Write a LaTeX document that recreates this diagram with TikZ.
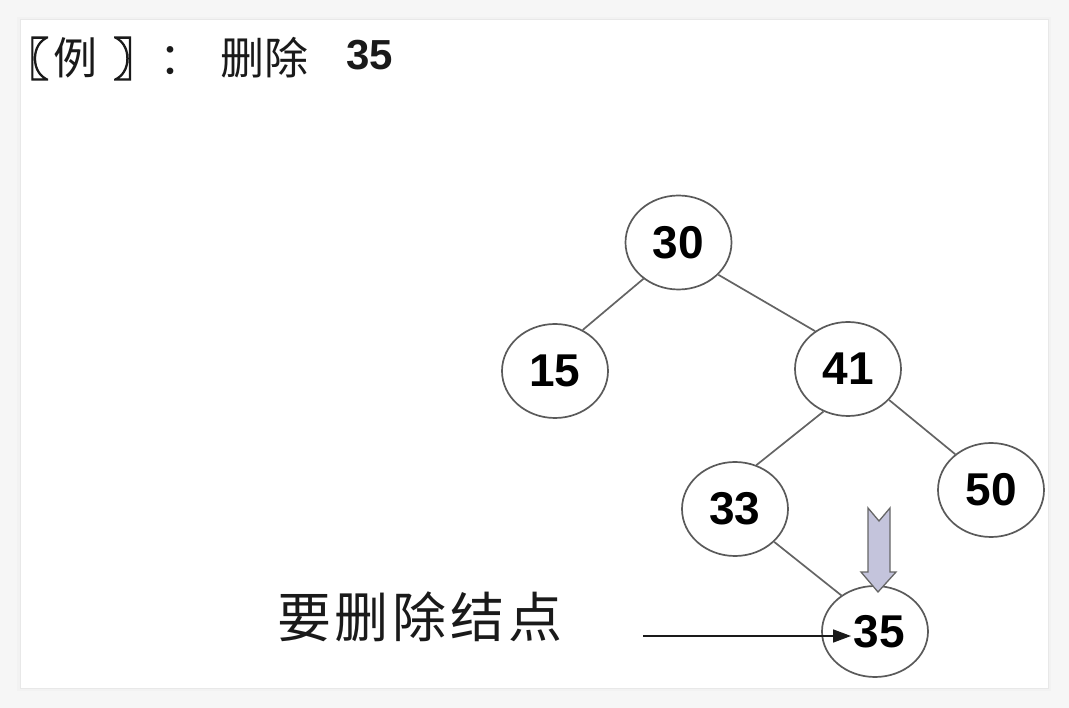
\documentclass[tikz,border=0pt]{standalone}
\usepackage{fontspec}
\setmainfont{Liberation Sans}
\newfontfamily\cjk{Noto Sans CJK SC}
\newfontfamily\cjkbold{Noto Sans CJK SC}[FakeBold=2.5]
\newfontfamily\numfont{Liberation Sans}
\usetikzlibrary{arrows.meta,shapes.geometric}
\definecolor{edgec}{HTML}{646464}
\definecolor{nodeline}{HTML}{5A5A5A}
\definecolor{inkc}{HTML}{1A1A1A}
\definecolor{arrowfill}{HTML}{C4C4DC}
\definecolor{arrowline}{HTML}{666666}
\definecolor{outerbg}{HTML}{F6F6F6}
\begin{document}
\begin{tikzpicture}[x=1pt,y=-1pt,
  tnode/.style={ellipse, draw=nodeline, line width=1.7pt, fill=white,
    minimum width=106pt, minimum height=94pt, inner sep=0pt,
    text=black, font=\numfont\bfseries\fontsize{46}{46}\selectfont},
  tedge/.style={draw=edgec, line width=1.7pt},
  pointer/.style={draw=inkc, line width=1.6pt, -{Triangle[length=18pt,width=13pt]}},
  bigarrow/.style={fill=arrowfill, draw=arrowline, line width=1.3pt, line join=miter}]
\useasboundingbox (0,0) rectangle (1069,708);
% background and card
\fill[outerbg] (0,0) rectangle (1069,708);
\draw[black!5, line width=6pt] (20,20) rectangle (1048,688);
\fill[white, draw=black!9, line width=1pt] (20,20) rectangle (1048,688);
% title
\node[anchor=base west, inner sep=0pt, text=inkc, font=\cjk\fontsize{44}{44}\selectfont] (title) at (3,70)
  {\raisebox{-6pt}{\cjkbold\fontsize{46}{46}\selectfont 〖}\hspace{4pt}\raisebox{-5pt}{例}\hspace{16pt}\raisebox{-6pt}{\cjkbold\fontsize{46}{46}\selectfont 〗}\raisebox{-5pt}{：}\hspace{17pt}\raisebox{-5pt}{删除}\hspace{38pt}{\numfont\bfseries\fontsize{42}{42}\selectfont 35}};
% tree nodes
\node[tnode] (n30) at (678.5,242.5) {30};
\node[tnode] (n15) at (555,371) {15};
\node[tnode] (n41) at (848,369) {41};
\node[tnode] (n33) at (735,509) {33};
\node[tnode] (n50) at (991,490) {50};
\node[tnode, minimum height=91pt] (n35) at (875,631.5) {\hspace{8pt}35};
% edges
\draw[tedge] (n30.-134) -- (n15.56);
\draw[tedge] (n30.-39) -- (n41.131);
\draw[tedge] (n41.-120) -- (n33.64);
\draw[tedge] (n41.-37) -- (n50.135);
\draw[tedge] (n33.-40) -- (n35.133);
% label and pointer
\node[text=inkc, font=\cjk\fontsize{54}{54}\selectfont, inner sep=0pt] (label) at (420,617)
  {要\hspace{4pt}删\hspace{4pt}除\hspace{4pt}结\hspace{4pt}点};
\coordinate (ptrstart) at (643,636);
\coordinate (ptrtip) at (851,636);
\draw[pointer] (ptrstart) -- (ptrtip);
% big down arrow
\draw[bigarrow] (868,508) -- (879,521) -- (890,508) -- (890,572) -- (896,572)
  -- (878,592) -- (861,572) -- (868,572) -- cycle;
\end{tikzpicture}
\end{document}
